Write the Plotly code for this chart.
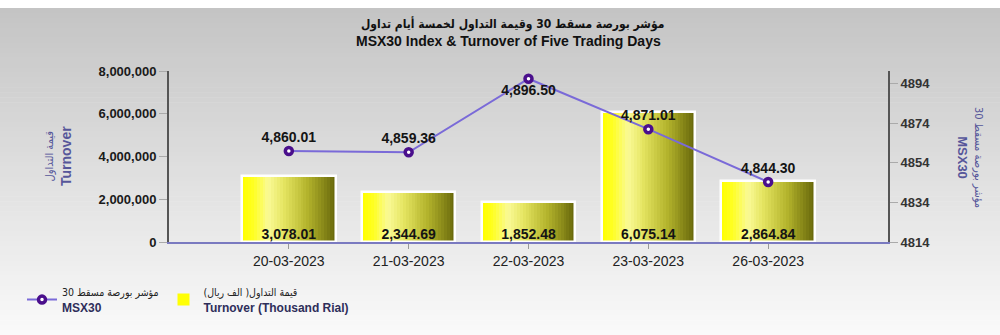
import plotly.graph_objects as go

# ---------------- data ----------------
dates = ["20-03-2023", "21-03-2023", "22-03-2023", "23-03-2023", "26-03-2023"]
msx30_index = [4860.01, 4859.36, 4896.50, 4871.01, 4844.30]
turnover_thousand_rial = [3078.01, 2344.69, 1852.48, 6075.14, 2864.84]
turnover_ticks = [0, 2000000, 4000000, 6000000, 8000000]
msx30_ticks = [4814, 4834, 4854, 4874, 4894]

title_ar = "مؤشر بورصة مسقط 30 وقيمة التداول لخمسة أيام تداول"
title_en = "MSX30 Index & Turnover of Five Trading Days"
left_title_ar = "قيمة التداول"
left_title_en = "Turnover"
right_title_ar = "مؤشر بورصة مسقط 30"
right_title_en = "MSX30"
legend_line_ar = "مؤشر بورصة مسقط 30"
legend_line_en = "MSX30"
legend_bar_ar = "قيمة التداول( الف ريال)"
legend_bar_en = "Turnover (Thousand Rial)"

# turnover plotted on axis in units of thousand-rial * 1000
turnover_axis = [v * 1000 for v in turnover_thousand_rial]

# ---------------- geometry / style ----------------
W, H = 1000, 335
ML, MR, MT, MB = 169, 112, 71, 93
PW, PH = W - ML - MR, H - MT - MB
FONT = "Liberation Sans, Arial, DejaVu Sans, sans-serif"
AR_FONT = "DejaVu Sans Condensed, DejaVu Sans, sans-serif"


def ar(text, size, bold=False, color=None):
    style = "font-family:%s;font-size:%gpx;font-weight:%s" % (AR_FONT, size, "bold" if bold else "normal")
    if color:
        style += ";fill:%s" % color
    return "<span style='%s'>%s</span>" % (style, text)


def paper_x(px):
    return (px - ML) / PW


def paper_y(py):
    return (H - MB - py) / PH


def hex_to_rgb(h):
    h = h.lstrip("#")
    return tuple(int(h[i:i + 2], 16) for i in (0, 2, 4))


def interp_color(stops, t):
    for (t0, c0), (t1, c1) in zip(stops[:-1], stops[1:]):
        if t0 <= t <= t1:
            f = 0 if t1 == t0 else (t - t0) / (t1 - t0)
            a, b = hex_to_rgb(c0), hex_to_rgb(c1)
            return "rgb(%d,%d,%d)" % tuple(round(a[i] + (b[i] - a[i]) * f) for i in range(3))
    return stops[-1][1]


bar_stops = [(0.0, "#ffff00"), (0.12, "#ffff22"), (0.28, "#fafa96"),
             (0.45, "#e4e460"), (0.7, "#b4b42c"), (1.0, "#66660a")]

fig = go.Figure()

# gradient bars built from slices
N = 32
BW = 0.78
sw = BW / N
for i in range(N):
    t = (i + 0.5) / N
    fig.add_trace(go.Bar(
        x=dates, y=turnover_axis,
        offset=-BW / 2 + i * sw, width=sw * 1.08,
        marker=dict(color=interp_color(bar_stops, t), line=dict(width=0)),
        name=ar(legend_bar_ar, 10.5, color="#222") + "<br><b>" + legend_bar_en + "</b>",
        showlegend=(i == 0), legendrank=2, hoverinfo="skip",
        yaxis="y", xaxis="x",
    ))

# white border around each bar
fig.add_trace(go.Bar(
    x=dates, y=turnover_axis, offset=-BW / 2, width=BW,
    marker=dict(color="rgba(0,0,0,0)", line=dict(color="white", width=2.5)),
    showlegend=False, hoverinfo="skip",
))

# bar value labels (thousand rial) at bar bottom
fig.add_trace(go.Scatter(
    x=dates, y=[0] * len(dates), mode="text",
    text=[f"{v:,.2f}" for v in turnover_thousand_rial],
    textposition="top center",
    textfont=dict(family=FONT, size=14, color="#141414", weight="bold"),
    showlegend=False, hoverinfo="skip", cliponaxis=False,
))

# MSX30 line
text_pos = ["top center"] * len(dates)
text_pos[msx30_index.index(max(msx30_index))] = "bottom center"
fig.add_trace(go.Scatter(
    x=dates, y=msx30_index, yaxis="y2", mode="lines+markers+text",
    line=dict(color="#7a6ad8", width=2),
    marker=dict(symbol="circle", size=7, color="white",
                line=dict(color="#4a0f8c", width=3.5)),
    text=[f"{v:,.2f}" for v in msx30_index],
    textposition=text_pos,
    textfont=dict(family=FONT, size=14, color="#141414", weight="bold"),
    name=ar(legend_line_ar, 10.5, color="#222") + "<br><b>" + legend_line_en + "</b>",
    legendrank=1, cliponaxis=False,
))

# background gradient (figure-wide)
shapes = []
top_px, n_strips = 8, 66
strip = (H - top_px) / n_strips
for k in range(n_strips):
    y0p = top_px + k * strip
    y1p = y0p + strip + 0.6
    g = round(196 + (y0p + strip / 2 - top_px) * 0.165)
    g = min(g, 252)
    shapes.append(dict(
        type="rect", xref="paper", yref="paper", layer="below",
        x0=paper_x(0), x1=paper_x(W), y0=paper_y(min(y1p, H)), y1=paper_y(y0p),
        fillcolor="rgb(%d,%d,%d)" % (g, g, g), line=dict(width=0),
    ))

annotations = [
    dict(text=ar(title_ar, 12, bold=True), xref="paper", yref="paper", x=paper_x(512), y=paper_y(24),
         showarrow=False, xanchor="center", yanchor="middle",
         font=dict(family=FONT, size=12, color="#111")),
    dict(text=title_en, xref="paper", yref="paper", x=paper_x(508), y=paper_y(41),
         showarrow=False, xanchor="center", yanchor="middle",
         font=dict(family=FONT, size=14, color="#111", weight="bold")),
    dict(text=ar(left_title_ar, 11) + "<br><b>" + left_title_en + "</b>",
         xref="paper", yref="paper", x=paper_x(58), y=paper_y(156),
         showarrow=False, textangle=-90, xanchor="center", yanchor="middle",
         font=dict(family=FONT, size=14, color="#56569a")),
    dict(text=ar(right_title_ar, 11) + "<br><b>" + right_title_en + "</b>",
         xref="paper", yref="paper", x=paper_x(970), y=paper_y(157),
         showarrow=False, textangle=90, xanchor="center", yanchor="middle",
         font=dict(family=FONT, size=13, color="#56569a")),
]

fig.update_layout(
    width=W, height=H,
    margin=dict(l=ML, r=MR, t=MT, b=MB, pad=0, autoexpand=False),
    paper_bgcolor="white", plot_bgcolor="rgba(0,0,0,0)",
    barmode="overlay", bargap=0,
    shapes=shapes, annotations=annotations,
    font=dict(family=FONT, color="#222"),
    xaxis=dict(type="category", categoryorder="array", categoryarray=dates,
               range=[-1, len(dates)], showgrid=False, zeroline=False,
               showline=True, linecolor="#7a7ac0", linewidth=2,
               ticks="outside", ticklen=5, tickcolor="#999", tickwidth=1,
               tickfont=dict(family=FONT, size=14, color="#222")),
    yaxis=dict(range=[0, turnover_ticks[-1]], tickvals=turnover_ticks,
               tickformat=",d", showgrid=False, zeroline=False,
               showline=True, linecolor="#555", linewidth=2,
               ticks="outside", ticklen=8, tickcolor="#aaa", tickwidth=1,
               tickfont=dict(family=FONT, size=13, color="#1a1a1a", weight="bold")),
    yaxis2=dict(overlaying="y", side="right", range=[4814, 4900.4],
                tickvals=msx30_ticks, showgrid=False, zeroline=False,
                showline=True, linecolor="#555", linewidth=2,
                ticks="outside", ticklen=8, tickcolor="#aaa", tickwidth=1,
                tickfont=dict(family=FONT, size=13, color="#333", weight="bold")),
    legend=dict(orientation="h", xref="container", yref="container",
                x=0.022, y=1 - 300 / H, xanchor="left", yanchor="middle",
                bgcolor="rgba(0,0,0,0)", traceorder="normal",
                font=dict(family=FONT, size=12, color="#2e2e5a"),
                itemwidth=30),
    showlegend=True,
)

fig.write_html("out.html")
